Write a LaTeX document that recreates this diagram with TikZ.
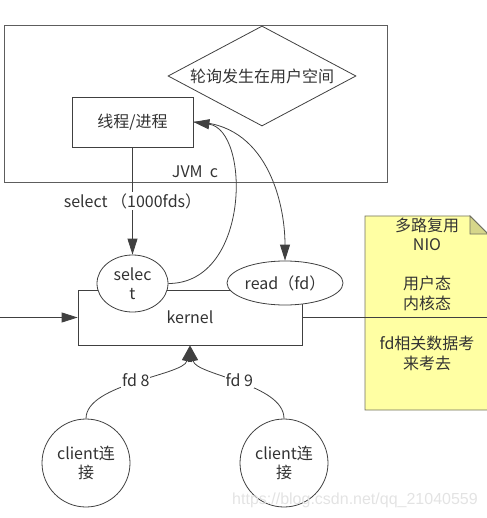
\documentclass[tikz,border=0pt]{standalone}
\usepackage{fontspec}
\setmainfont{Noto Sans CJK SC}
\newfontfamily\markfont{Liberation Sans}
\usetikzlibrary{arrows.meta,shapes.geometric}
\definecolor{NoteFill}{HTML}{FFFFA3}
\definecolor{NoteFold}{HTML}{D6D68A}
\definecolor{NoteLine}{HTML}{707060}
\definecolor{InkLine}{HTML}{404040}
\definecolor{InkText}{HTML}{333333}

\begin{document}
\begin{tikzpicture}[x=1pt,y=-1pt,
  every node/.style={font=\fontsize{16}{19.5}\selectfont,text=InkText},
  box/.style={draw=InkLine,fill=white,line width=.8pt,inner sep=0pt},
  oval/.style={draw=InkLine,fill=white,ellipse,line width=.8pt,inner sep=0pt,align=center},
  link/.style={draw=InkLine,line width=.8pt},
  tip/.style={-{Triangle[length=16pt,width=10pt]}},
  tag/.style={fill=white,inner sep=1pt}]
\useasboundingbox (0,0) rectangle (486,518);
% user space
\node[draw=InkLine!85,line width=.8pt,minimum width=383pt,minimum height=157pt,inner sep=0pt] (jvm) at (195.5,103.5) {};
\node (jvmtag) at (195,172) {JVM\ \ c};
\node[diamond,draw=InkLine,fill=white,line width=.8pt,aspect=1.88,minimum width=188pt,minimum height=100pt,inner sep=0pt] (poll) at (262,76) {轮询发生在用户空间};
\node[box,minimum width=121pt,minimum height=50pt] (proc) at (132.5,122) {线程/进程};
% kernel
\node[box,minimum width=224pt,minimum height=55pt] (kern) at (190,317.5) {kernel};
\node[oval,minimum width=71pt,minimum height=57pt] (sel) at (132.5,283.5) {selec\\t};
\node[oval,minimum width=116pt,minimum height=44pt] (rd) at (285,283) {read（fd）};
% clients
\node[draw=InkLine,fill=white,line width=.8pt,circle,minimum size=88pt,inner sep=0pt,align=center] (cl8) at (86,463) {client连\\接};
\node[draw=InkLine,fill=white,line width=.8pt,circle,minimum size=88pt,inner sep=0pt,align=center] (cl9) at (284,463) {client连\\接};
% note
\coordinate (nw) at (365,216);
\coordinate (nf) at (470,216);
\coordinate (nc) at (470,234);
\coordinate (ne) at (488,234);
\coordinate (se) at (488,410);
\coordinate (sw) at (365,410);
\filldraw[fill=NoteFill,draw=NoteLine,line width=.8pt] (nw) -- (nf) -- (ne) -- (se) -- (sw) -- cycle;
\filldraw[fill=NoteFold,draw=NoteLine,line width=.8pt] (nf) -- (nc) -- (ne) -- cycle;
\node[align=center] (nioA) at (427,264) {多路复用\\NIO\\~\\用户态\\内核态};
\node[align=center] (nioB) at (427,353.5) {fd相关数据考\\来考去};
% connectors
\coordinate (src) at (0,317.5);
\coordinate (noteR) at (488,317.5);
\draw[link,tip] (src) -- (kern.west);
\draw[link] (kern.east) -- (noteR);
\draw[link,tip] (proc.south) -- node[tag] (seltag) {select （1000fds）} (sel.north);
\draw[link,tip] (sel.east) .. controls +(82,0) and +(57,8) .. (proc.east);
\draw[link,tip] (proc.east) .. controls +(72,0) and +(0,-60) .. (rd.north);
\draw[link,tip] (cl8.north) .. controls +(0,-35) and +(-6,30) .. node[tag] (fd8) {fd 8} (kern.south);
\draw[link,tip] (cl9.north) .. controls +(0,-35) and +(6,30) .. node[tag] (fd9) {fd 9} (kern.south);
% watermark
\node[font=\markfont\fontsize{16}{19}\selectfont,text=gray!22] (mark) at (355,500) {https://blog.csdn.net/qq\_21040559};
\end{tikzpicture}
\end{document}
